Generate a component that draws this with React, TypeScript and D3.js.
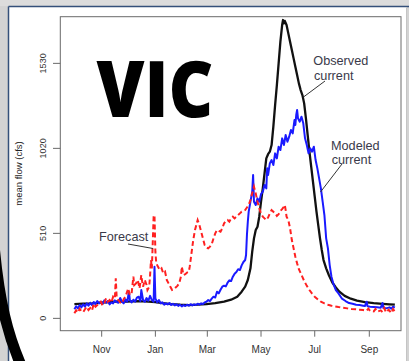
import React from "react";
import * as d3 from "d3";

const W = 409;
const H = 361;

// Day offsets from 1 Oct 2001 (water year start) and mean flow values (cfs)
const observed: [number, number][] = [
  [0,85],[10,88],[20,90],[30,95],[40,98],[50,102],[60,100],[70,104],[80,102],[92,98],[100,92],[110,86],[120,82],[130,80],[140,82],[150,86],[160,92],[170,100],[178,112],[185,130],[190,160],[194,190],[197,230],[200,300],[202,400],[204,480],[206,530],[208,550],[210,610],[212,700],[214,780],[216,870],[218,960],[220,985],[222,1000],[224,1040],[226,1150],[228,1280],[230,1400],[232,1530],[234,1660],[236,1760],[237,1790],[238,1770],[239,1785],[241,1760],[243,1710],[245,1660],[247,1610],[249,1560],[251,1510],[253,1460],[255,1410],[257,1370],[259,1340],[261,1290],[263,1200],[265,1100],[267,1000],[269,910],[271,820],[273,730],[275,640],[277,560],[279,480],[281,410],[283,350],[286,300],[289,260],[293,215],[297,185],[301,160],[307,135],[314,118],[321,106],[330,97],[340,91],[350,87],[358,84],[364,82]
];

const modeled: [number, number][] = [
  [0,55],[2,72],[4,60],[6,80],[8,66],[10,84],[12,70],[14,90],[16,76],[18,94],[20,80],[22,98],[24,86],[26,104],[28,90],[30,100],[32,86],[34,108],[36,94],[38,104],[40,84],[42,96],[44,90],[46,108],[48,98],[50,94],[52,122],[54,100],[56,90],[58,114],[60,100],[62,160],[63,110],[65,96],[67,112],[69,100],[71,124],[73,130],[75,104],[76,170],[78,110],[80,100],[82,122],[84,106],[86,135],[88,110],[90,100],[91,310],[92,120],[94,96],[96,110],[98,90],[100,96],[102,82],[104,90],[106,84],[108,92],[110,80],[112,88],[114,78],[116,85],[118,75],[120,82],[122,72],[124,80],[126,74],[128,82],[130,76],[132,85],[134,78],[136,84],[138,80],[140,88],[142,82],[144,90],[146,86],[148,96],[150,100],[152,110],[154,104],[156,118],[158,130],[160,125],[162,160],[164,150],[166,172],[168,190],[170,196],[172,192],[174,214],[176,228],[178,224],[180,250],[182,268],[184,278],[186,295],[188,290],[190,318],[192,338],[194,350],[195,380],[196,500],[197,580],[198,640],[200,700],[202,760],[203,860],[204,700],[206,680],[208,720],[210,700],[212,745],[214,760],[216,800],[218,780],[219,900],[220,860],[222,930],[224,950],[226,920],[228,990],[230,960],[232,1030],[234,1010],[236,1080],[238,1040],[240,1100],[242,1060],[244,1090],[246,1130],[248,1110],[250,1190],[251,1160],[252,1220],[253,1250],[254,1200],[256,1180],[258,1210],[260,1170],[262,1080],[264,1040],[266,990],[268,1020],[270,1000],[272,1030],[274,950],[276,900],[278,840],[280,780],[282,700],[284,620],[286,480],[288,420],[290,320],[292,250],[294,210],[297,170],[300,150],[304,118],[308,104],[312,92],[316,88],[320,82],[324,80],[328,76],[330,74],[332,100],[333,72],[336,70],[340,68],[344,66],[348,64],[350,92],[351,62],[354,60],[358,66],[360,58],[362,70],[364,64]
];

const forecast: [number, number][] = [
  [0,30],[2,48],[4,35],[6,58],[8,42],[10,38],[12,55],[14,70],[16,50],[18,62],[20,48],[22,88],[24,70],[26,80],[28,95],[30,100],[32,78],[34,92],[36,120],[38,100],[40,110],[42,95],[44,130],[46,120],[47,240],[48,130],[50,110],[52,95],[54,90],[56,115],[58,130],[60,160],[61,180],[63,140],[65,150],[67,250],[68,200],[70,210],[72,230],[74,180],[76,260],[77,220],[78,190],[80,230],[82,200],[83,170],[85,190],[86,260],[87,350],[88,300],[89,450],[90,610],[91,620],[92,400],[93,330],[95,310],[97,290],[99,300],[101,270],[103,280],[105,230],[107,210],[109,190],[111,170],[113,175],[115,185],[117,195],[119,210],[121,250],[122,310],[124,260],[126,265],[128,275],[130,280],[131,310],[133,390],[135,470],[137,530],[139,570],[140,590],[142,560],[144,520],[146,480],[148,440],[150,425],[152,420],[154,430],[156,445],[158,480],[160,510],[162,530],[164,525],[166,520],[168,540],[170,570],[172,585],[174,590],[176,580],[178,600],[180,610],[182,600],[184,610],[186,620],[188,630],[190,640],[192,645],[194,650],[196,665],[198,680],[200,710],[202,750],[204,790],[206,750],[208,700],[210,660],[212,630],[214,610],[216,600],[218,590],[220,605],[222,630],[224,650],[226,640],[228,630],[230,615],[232,625],[234,645],[236,655],[238,670],[239,680],[240,650],[241,610],[243,590],[245,540],[247,470],[249,420],[251,370],[253,330],[255,295],[258,260],[261,225],[264,195],[267,170],[270,148],[273,130],[277,112],[280,100],[284,90],[288,82],[292,76],[296,72],[300,68],[305,64],[310,60],[315,56],[320,54],[324,52],[328,50],[332,46],[334,58],[336,44],[340,42],[342,56],[344,40],[348,48],[350,38],[352,62],[354,36],[357,52],[360,32],[362,56],[364,40]
];

const yTicks = [0, 510, 1020, 1530];
const xTickLabels = ["Nov", "Jan", "Mar", "May", "Jul", "Sep"];
const xTickDates = [new Date(2001, 10, 1), new Date(2002, 0, 1), new Date(2002, 2, 1), new Date(2002, 4, 1), new Date(2002, 6, 1), new Date(2002, 8, 1)];

const FONT = "'Liberation Sans', Arial, sans-serif";

export default function App() {
  const left = 60.3, right = 401, top = 16.7, bottom = 330.7;
  const x = d3.scaleTime().domain([new Date(2001, 8, 15), new Date(2002, 9, 7)]).range([left, right]);
  const y = d3.scaleLinear().domain([-74, 1810]).range([bottom, top]);
  const toDate = (d: number) => new Date(2001, 9, 1 + d);
  const line = d3.line<[number, number]>().x((p) => x(toDate(p[0]))).y((p) => y(p[1]));

  return (
    <svg width={W} height={H} style={{ position: "absolute", left: 0, top: 0, background: "#d2d2d2" }}>
      <rect x={0} y={0} width={W} height={H} fill="#d3d3d3" />
      <rect x={0} y={0} width={W} height={6} fill="#dcdcdc" />
      <rect x={8.5} y={6.5} width={398} height={360} fill="#ffffff" />
      <line x1={8.5} y1={6.5} x2={W} y2={6.5} stroke="#35507a" strokeWidth={1.5} />
      <line x1={8.5} y1={6.5} x2={8.5} y2={H} stroke="#35507a" strokeWidth={1.5} />
      <line x1={406.5} y1={7} x2={406.5} y2={H} stroke="#c4c4c4" strokeWidth={1} />

      {/* plot box */}
      <rect x={left} y={top} width={right - left} height={bottom - top} fill="none" stroke="#6a6a6a" strokeWidth={1} />

      {/* y axis */}
      {yTicks.map((t) => (
        <g key={t}>
          <line x1={53} x2={left} y1={y(t)} y2={y(t)} stroke="#6a6a6a" strokeWidth={1} />
          <text transform={`translate(45.5,${y(t)}) rotate(-90)`} textAnchor="middle" fontFamily={FONT} fontSize={9} fill="#333">{t}</text>
        </g>
      ))}
      <text transform="translate(21.5,173.5) rotate(-90)" textAnchor="middle" fontFamily={FONT} fontSize={9.5} fill="#222">mean flow (cfs)</text>

      {/* x axis */}
      {xTickDates.map((d, i) => (
        <g key={i}>
          <line x1={x(d)} x2={x(d)} y1={bottom} y2={bottom + 6} stroke="#6a6a6a" strokeWidth={1} />
          <text x={x(d)} y={352.5} textAnchor="middle" fontFamily={FONT} fontSize={10} fill="#333">{xTickLabels[i]}</text>
        </g>
      ))}

      {/* series */}
      <path d={line(observed) || ""} fill="none" stroke="#111" strokeWidth={2.3} strokeLinejoin="round" />
      <path d={line(modeled) || ""} fill="none" stroke="#1a1aff" strokeWidth={2} strokeLinejoin="round" />
      <path d={line(forecast) || ""} fill="none" stroke="#ff2020" strokeWidth={2} strokeDasharray="5,3" />

      {/* annotations */}
      <g fontFamily={FONT} fontSize={12.7} fill="#3a3a4a">
        <text x={313.3} y={65}>Observed</text>
        <text x={314} y={80}>current</text>
        <text x={331} y={150}>Modeled</text>
        <text x={331.7} y={163.5}>current</text>
        <text x={99} y={240.5}>Forecast</text>
      </g>
      <g stroke="#333" strokeWidth={1}>
        <line x1={325} y1={81} x2={303.5} y2={97} />
        <line x1={342} y1={164} x2={320.5} y2={192} />
        <line x1={128} y1={244} x2={153} y2={248.5} />
      </g>

      <text x={96.5} y={116.7} fontFamily="'Open Sans', 'Noto Sans', sans-serif" fontWeight={800} fontSize={78} textLength={117} lengthAdjust="spacingAndGlyphs" fill="#000">VIC</text>

      {/* black arc in the lower-left corner */}
      <path d="M -6,245 C -1,300 7,335 24,372" fill="none" stroke="#000" strokeWidth={11} />
    </svg>
  );
}
